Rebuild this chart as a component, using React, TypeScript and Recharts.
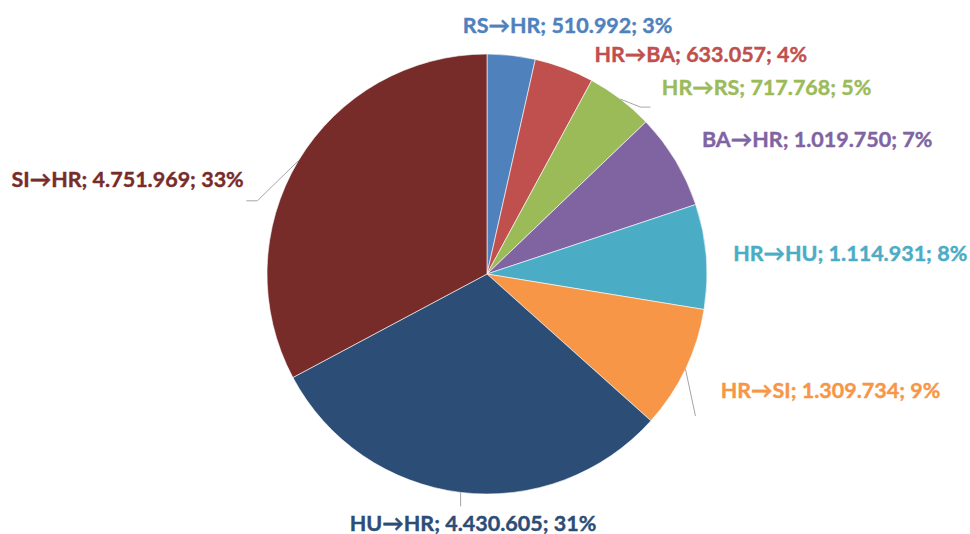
import { PieChart, Pie, Cell } from "recharts"

const flows = ["RS→HR", "HR→BA", "HR→RS", "BA→HR", "HR→HU", "HR→SI", "HU→HR", "SI→HR"]
const volumes = [510992, 633057, 717768, 1019750, 1114931, 1309734, 4430605, 4751969]
const shares = ["3%", "4%", "5%", "7%", "8%", "9%", "31%", "33%"]
const colors = ["#4F81BD", "#C0504D", "#9BBB59", "#8064A2", "#4BACC6", "#F79646", "#2C4D75", "#772C2A"]

const data = flows.map((name, i) => ({ name, value: volumes[i], share: shares[i] }))

const fmt = (n: number) => n.toString().replace(/\B(?=(\d{3})+(?!\d))/g, ".")

// where excel dropped each label (text centre / baseline), relative to a point 30px outside the rim
const labelShift: [number, number][] = [
    [53, 7], [126, 22], [128, 20], [116, 2], [114, 7], [118, 16], [16, 9], [-145, 42],
]
// leader lines (from rim point) for the labels that have one
const leaders: Record<number, [number, number][]> = {
    2: [[20, 8], [30, 8]],
    5: [[10, 47]],
    6: [[0, 14]],
    7: [[-41, 40], [-52, 40]],
}

const RAD = Math.PI / 180

const renderLabel = (props: any) => {
    const { cx, cy, midAngle, outerRadius, index } = props
    const cos = Math.cos(-midAngle * RAD)
    const sin = Math.sin(-midAngle * RAD)
    const px = cx + (outerRadius + 30) * cos
    const py = cy + (outerRadius + 30) * sin
    const rx = cx + outerRadius * cos
    const ry = cy + outerRadius * sin
    const [dx, dy] = labelShift[index]
    const d = data[index]
    const pts = leaders[index]
    return (
        <g>
            {pts && (
                <polyline
                    points={[[rx, ry], ...pts.map(([a, b]) => [rx + a, ry + b])].map((p) => p.join(",")).join(" ")}
                    fill="none"
                    stroke="#A6A6A6"
                    strokeWidth={1}
                />
            )}
            <text
                x={px + dx}
                y={py + dy}
                textAnchor="middle"
                fill={colors[index]}
                stroke={colors[index]}
                strokeWidth={0.4}
                fontFamily="Lato, 'Open Sans', sans-serif"
                fontWeight={700}
                fontSize={21.5}
            >
                {`${d.name}; ${fmt(d.value)}; ${d.share}`}
            </text>
        </g>
    )
}

export default function App() {
    return (
        <div style={{ position: "absolute", left: 0, top: 0, background: "#fff" }}>
            <PieChart width={970} height={534} margin={{ top: 0, right: 0, bottom: 0, left: 0 }}>
                <Pie
                    data={data}
                    dataKey="value"
                    nameKey="name"
                    cx={487}
                    cy={274}
                    outerRadius={220}
                    startAngle={90}
                    endAngle={-270}
                    stroke="#fff"
                    strokeWidth={0.6}
                    label={renderLabel}
                    labelLine={false}
                    isAnimationActive={false}
                >
                    {data.map((d, i) => (
                        <Cell key={d.name} fill={colors[i]} />
                    ))}
                </Pie>
            </PieChart>
        </div>
    )
}
